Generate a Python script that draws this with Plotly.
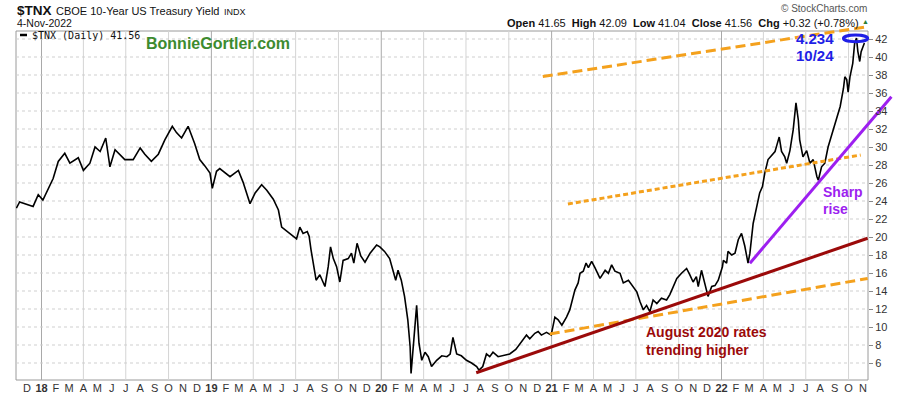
import plotly.graph_objects as go
import pandas as pd

# ---- $TNX daily close (x10) ----
dates = [
    "2017-11-08", "2017-11-15", "2017-12-14", "2017-12-25", "2018-01-04", "2018-01-26",
    "2018-02-06", "2018-02-20", "2018-03-03", "2018-03-21", "2018-04-01", "2018-04-15",
    "2018-04-26", "2018-05-07", "2018-05-19", "2018-05-28", "2018-06-08", "2018-06-29",
    "2018-07-17", "2018-08-01", "2018-08-11", "2018-08-25", "2018-09-09", "2018-09-23",
    "2018-10-09", "2018-10-18", "2018-10-29", "2018-11-12", "2018-11-26", "2018-12-07",
    "2018-12-18", "2018-12-29", "2019-01-03", "2019-01-12", "2019-01-19", "2019-02-10",
    "2019-02-28", "2019-03-10", "2019-03-25", "2019-04-05", "2019-04-19", "2019-04-30",
    "2019-05-14", "2019-05-25", "2019-06-01", "2019-06-19", "2019-07-03", "2019-07-10",
    "2019-07-17", "2019-07-26", "2019-07-30", "2019-08-03", "2019-08-08", "2019-08-14",
    "2019-08-22", "2019-09-02", "2019-09-09", "2019-09-14", "2019-09-20", "2019-09-27",
    "2019-10-04", "2019-10-11", "2019-10-22", "2019-10-29", "2019-11-03", "2019-11-10",
    "2019-11-18", "2019-11-27", "2019-12-08", "2019-12-15", "2019-12-22", "2019-12-29",
    "2020-01-08", "2020-01-19", "2020-01-26", "2020-02-01", "2020-02-06", "2020-02-13",
    "2020-02-20", "2020-02-27", "2020-03-03", "2020-03-05", "2020-03-11", "2020-03-17",
    "2020-03-22", "2020-03-28", "2020-04-04", "2020-04-11", "2020-04-18", "2020-04-29",
    "2020-05-10", "2020-05-21", "2020-05-28", "2020-06-03", "2020-06-11", "2020-06-21",
    "2020-07-02", "2020-07-13", "2020-07-24", "2020-07-29", "2020-08-06", "2020-08-14",
    "2020-08-21", "2020-08-28", "2020-09-08", "2020-09-22", "2020-10-03", "2020-10-16",
    "2020-11-01", "2020-11-08", "2020-11-15", "2020-11-26", "2020-12-03", "2020-12-10",
    "2020-12-21", "2020-12-31", "2021-01-08", "2021-01-15", "2021-01-23", "2021-02-02",
    "2021-02-09", "2021-02-15", "2021-02-20", "2021-02-27", "2021-03-03", "2021-03-10",
    "2021-03-16", "2021-03-21", "2021-03-28", "2021-04-04", "2021-04-15", "2021-04-26",
    "2021-05-03", "2021-05-10", "2021-05-17", "2021-05-28", "2021-06-04", "2021-06-15",
    "2021-06-22", "2021-07-03", "2021-07-10", "2021-07-17", "2021-07-24", "2021-07-31",
    "2021-08-07", "2021-08-15", "2021-08-25", "2021-09-05", "2021-09-12", "2021-09-19",
    "2021-09-27", "2021-10-07", "2021-10-18", "2021-10-25", "2021-11-01", "2021-11-08",
    "2021-11-12", "2021-11-19", "2021-11-24", "2021-11-30", "2021-12-03", "2021-12-11",
    "2021-12-18", "2021-12-25", "2022-01-03", "2022-01-05", "2022-01-12", "2022-01-15",
    "2022-01-23", "2022-01-30", "2022-02-06", "2022-02-13", "2022-02-20", "2022-02-27",
    "2022-03-03", "2022-03-10", "2022-03-17", "2022-03-24", "2022-03-30", "2022-04-04",
    "2022-04-11", "2022-04-19", "2022-04-26", "2022-05-01", "2022-05-05", "2022-05-10",
    "2022-05-17", "2022-05-21", "2022-05-28", "2022-06-04", "2022-06-10", "2022-06-15",
    "2022-06-18", "2022-06-25", "2022-07-03", "2022-07-10", "2022-07-17", "2022-07-25",
    "2022-07-28", "2022-08-04", "2022-08-11", "2022-08-18", "2022-08-29", "2022-09-06",
    "2022-09-13", "2022-09-20", "2022-09-23", "2022-09-27", "2022-09-30", "2022-10-04",
    "2022-10-10", "2022-10-14", "2022-10-18", "2022-10-21", "2022-10-25", "2022-10-28",
    "2022-11-02", "2022-11-04",
]
values = [
    23.2, 23.9, 23.4, 24.7, 24.1, 26.5,
    28.4, 29.3, 28.2, 28.8, 27.4, 28.2,
    30.0, 29.5, 31.0, 27.8, 29.7, 28.6,
    28.6, 29.9, 29.2, 28.4, 29.2, 30.8,
    32.3, 31.6, 31.0, 32.3, 30.4, 28.6,
    27.9, 27.1, 25.4, 27.3, 27.6, 26.7,
    27.4, 26.1, 23.7, 24.9, 25.8, 25.2,
    24.2, 23.0, 21.1, 20.4, 19.8, 21.1,
    20.4, 20.6, 20.1, 18.6, 16.9, 15.2,
    15.8, 14.5, 16.7, 18.9, 17.6, 16.7,
    15.0, 17.4, 17.6, 18.2, 17.1, 19.3,
    17.9, 17.2, 18.2, 18.6, 19.1, 18.9,
    18.4, 17.6, 16.3, 15.2, 16.3, 15.2,
    13.4, 10.8, 7.8, 4.85, 8.6, 12.4,
    8.2, 6.3, 7.2, 6.7, 5.6, 6.3,
    6.8, 6.7, 7.0, 8.85, 7.0, 6.8,
    6.3, 6.0, 5.6, 5.2, 5.6, 7.0,
    6.7, 7.2, 6.7, 6.9, 7.0, 7.5,
    8.6, 9.1, 8.7, 9.3, 9.5, 9.1,
    9.4, 9.1, 11.1, 10.8, 10.2, 11.1,
    11.9, 13.0, 14.1, 14.9, 15.97, 16.2,
    17.1, 16.6, 17.3, 16.6, 15.4, 16.3,
    15.97, 16.9, 16.2, 15.97, 14.9, 15.2,
    14.7, 13.9, 12.8, 11.9, 12.4, 11.7,
    13.0, 12.6, 13.2, 13.0, 13.6, 14.5,
    15.4, 15.97, 16.5, 15.8, 15.0, 15.6,
    14.5, 16.3, 15.2, 14.1, 13.4, 14.5,
    14.6, 15.2, 16.7, 17.4, 17.1, 18.4,
    18.0, 18.2, 19.7, 20.4, 19.0, 17.1,
    18.2, 21.5, 23.4, 24.9, 25.6, 27.1,
    28.6, 29.1, 29.5, 30.4, 31.1, 29.5,
    28.9, 28.2, 29.6, 31.9, 34.9, 33.0,
    30.8, 28.9, 29.6, 28.2, 28.6, 26.7,
    26.3, 27.8, 28.2, 30.0, 31.9, 33.4,
    34.5, 36.5, 37.8, 37.5, 36.1, 37.8,
    39.3, 41.5, 42.1, 40.6, 39.5, 40.6,
    41.5, 41.56,
]

# ---- hand-drawn trend lines (endpoints) ----
top_dash_dates = ["2020-12-13", "2022-11-11"]
top_dash_vals = [37.83, 43.37]
mid_dot_dates = ["2021-02-05", "2022-10-27"]
mid_dot_vals = [23.67, 29.11]
low_dash_dates = ["2020-12-28", "2022-11-11"]
low_dash_vals = [9.22, 15.39]
red_dates = ["2020-07-23", "2022-11-11"]
red_vals = [4.92, 19.86]
purple_dates = ["2022-03-03", "2023-01-01"]
purple_vals = [17.08, 35.59]
peak_ring_dates = ["2022-09-20", "2022-11-11"]
peak_ring_vals = [41.70, 42.45]

# ---- axes ----
month_letters = ["J", "F", "M", "A", "M", "J", "J", "A", "S", "O", "N", "D"]
tick_dates = list(pd.date_range("2017-12-01", "2022-11-01", freq="MS"))
tick_text = [("<b>%02d</b>" % (d.year % 100)) if d.month == 1 else month_letters[d.month - 1]
             for d in tick_dates]
y_ticks = list(range(6, 43, 2))
quarter_lines = list(pd.date_range("2018-01-01", "2022-10-01", freq="QS"))

x_range = [pd.Timestamp("2017-11-07 05:00"), pd.Timestamp("2023-01-19 12:00")]
y_range = [4.111, 44.333]

# page geometry (pixels)
W, H = 900, 396
L, R, T, B = 16, 0, 18, 16
PW, PH = W - L - R, H - T - B
BORDER_RIGHT, BORDER_TOP = 868, 31


def px(x):
    return (x - L) / PW


def py(y):
    return (H - B - y) / PH


bx = px(BORDER_RIGHT)
by = py(BORDER_TOP)
border_date = x_range[0] + (x_range[1] - x_range[0]) * bx
border_val = y_range[0] + (y_range[1] - y_range[0]) * by

ORANGE = "#F4A11D"
FONT = "Liberation Sans, Arial, sans-serif"

fig = go.Figure()
fig.add_trace(go.Scatter(x=dates, y=values, mode="lines",
                         line=dict(color="black", width=1.6), hoverinfo="skip"))
fig.add_trace(go.Scatter(x=top_dash_dates, y=top_dash_vals, mode="lines",
                         line=dict(color=ORANGE, width=3, dash="10px,5px")))
fig.add_trace(go.Scatter(x=mid_dot_dates, y=mid_dot_vals, mode="lines",
                         line=dict(color=ORANGE, width=3, dash="5px,3px")))
fig.add_trace(go.Scatter(x=low_dash_dates, y=low_dash_vals, mode="lines",
                         line=dict(color=ORANGE, width=3, dash="10px,5px")))
fig.add_trace(go.Scatter(x=red_dates, y=red_vals, mode="lines",
                         line=dict(color="#9B0A0A", width=3)))
fig.add_trace(go.Scatter(x=purple_dates, y=purple_vals, mode="lines",
                         line=dict(color="#9D1FF0", width=3)))

shapes = []
for q in quarter_lines:
    shapes.append(dict(type="line", xref="x", yref="y", x0=q, x1=q,
                       y0=y_range[0], y1=border_val, layer="below",
                       line=dict(color="#a9a9a9" if q.month == 1 else "#d4d4d4", width=1)))
for v in y_ticks:
    shapes.append(dict(type="line", xref="x", yref="y", x0=x_range[0], x1=border_date,
                       y0=v, y1=v, layer="below",
                       line=dict(color="#cfcfcf", width=1, dash="dot")))
shapes.append(dict(type="rect", xref="paper", yref="paper", x0=0, x1=bx, y0=0, y1=by,
                   layer="below", line=dict(color="#9a9a9a", width=1)))
shapes.append(dict(type="line", xref="paper", yref="paper", x0=px(20), x1=px(27),
                   y0=py(35), y1=py(35), line=dict(color="black", width=2.5)))
shapes.append(dict(type="circle", xref="x", yref="y",
                   x0=peak_ring_dates[0], x1=peak_ring_dates[1],
                   y0=peak_ring_vals[0], y1=peak_ring_vals[1],
                   line=dict(color="#1f1fe6", width=3)))


def ann(text, x, y, size, color="#111", anchor="left", family=FONT):
    return dict(text=text, x=px(x), y=py(y), xref="paper", yref="paper",
                xanchor=anchor, yanchor="middle", showarrow=False,
                font=dict(size=size, color=color, family=family))


OHLC = ("<b>Open</b> 41.65\u00a0 <b>High</b> 42.09\u00a0 <b>Low</b> 41.04\u00a0 "
        "<b>Close</b> 41.56\u00a0 <b>Chg</b> +0.32 (+0.78%)")
annotations = [
    ann("<b>$TNX</b>", 15, 10, 13.5, "#111"),
    ann("CBOE 10-Year US Treasury Yield", 54, 11, 11, "#111"),
    ann("INDX", 222, 11.5, 9, "#111"),
    ann("4-Nov-2022", 15, 23, 10.5, "#111"),
    ann("\u00a9 StockCharts.com", 869, 9, 10, "#555", anchor="right"),
    ann(OHLC, 861, 22.5, 11, "#111", anchor="right"),
    ann("\u25b2", 865, 21, 7, "#2e7d32", anchor="center"),
    ann("$TNX (Daily) 41.56", 30, 35, 10, "#111", family="DejaVu Sans Mono, monospace"),
    ann("<b>BonnieGortler.com</b>", 144, 43.5, 16, "#3d8b2f"),
    ann("<b>4.234</b>", 836, 38.5, 15, "#1f1fe6", anchor="right"),
    ann("<b>10/24</b>", 836, 55, 15, "#1f1fe6", anchor="right"),
    ann("<b>Sharp</b>", 821, 192, 14, "#9D1FF0"),
    ann("<b>rise</b>", 821, 209, 14, "#9D1FF0"),
    ann("<b>August 2020 rates</b>", 644, 331.5, 14, "#9B0A0A"),
    ann("<b>trending higher</b>", 644, 349.5, 14, "#9B0A0A"),
]

fig.update_layout(
    width=W, height=H,
    margin=dict(l=L, r=R, t=T, b=B, pad=0),
    paper_bgcolor="white", plot_bgcolor="white",
    showlegend=False,
    shapes=shapes, annotations=annotations,
    font=dict(family=FONT, size=11, color="#333"),
    xaxis=dict(type="date", range=x_range, tickmode="array", tickvals=tick_dates,
               ticktext=tick_text, showgrid=False, zeroline=False, showline=False,
               ticks="", tickangle=0, tickfont=dict(size=11, color="#333", family=FONT),
               fixedrange=True),
    yaxis=dict(range=y_range, anchor="free", position=bx, side="right",
               tickmode="array", tickvals=y_ticks, showgrid=False, zeroline=False,
               showline=False, ticks="outside", ticklen=4, tickcolor="#888",
               tickfont=dict(size=11, color="#333", family=FONT), fixedrange=True),
)

# the page's default 8px body margin would shift the figure; remove it
fig.write_html("out.html", config={"displayModeBar": False},
               post_script="document.body.style.margin='0';")
